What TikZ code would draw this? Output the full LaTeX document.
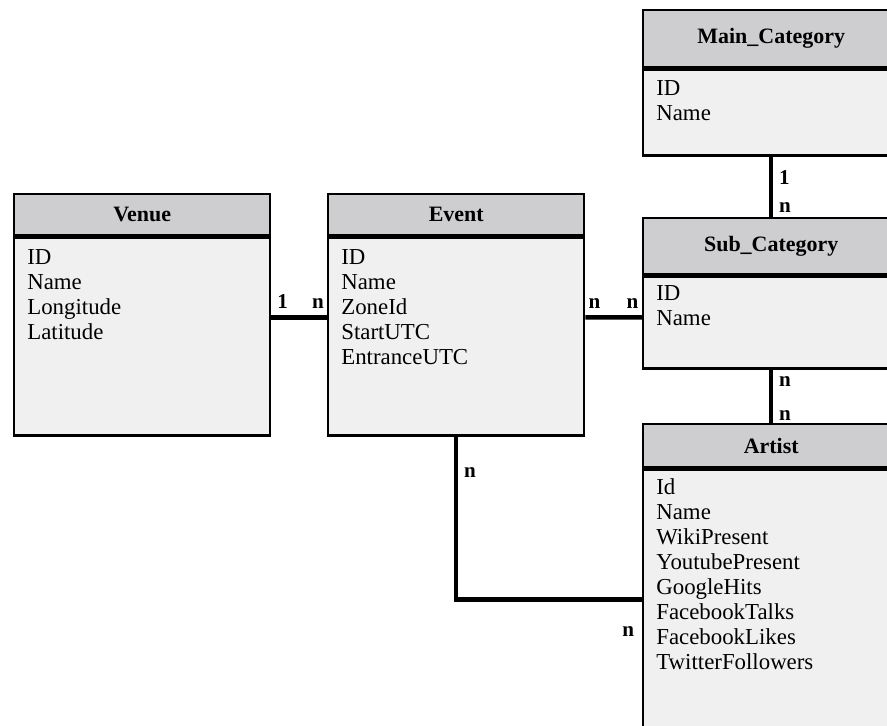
\documentclass[tikz,border=0pt]{standalone}
\usepackage{fontspec}
\setmainfont{Liberation Serif}
\usetikzlibrary{positioning}

\definecolor{headgray}{RGB}{206,205,207}
\definecolor{bodygray}{RGB}{240,240,240}

\tikzset{
  tablehead/.style={draw, line width=1.4pt, fill=headgray, anchor=north west,
    minimum width=5.12cm, inner sep=0pt, font=\fontsize{12.5}{14}\selectfont\bfseries},
  tablebody/.style={draw, line width=1.4pt, fill=bodygray,
    minimum width=5.12cm, inner sep=0pt},
  fieldlist/.style={anchor=north west, align=left, inner sep=0pt,
    font=\fontsize{13}{14.23}\selectfont},
  rel/.style={line width=2.6pt},
  card/.style={font=\fontsize{12}{13}\selectfont\bfseries, inner sep=1.5pt}
}

\begin{document}
\begin{tikzpicture}[x=0.02cm,y=-0.02cm]
  \useasboundingbox (0,0) rectangle (887,725);
  \clip (0,0) rectangle (887,725);
  % Tables
  \node[tablehead, minimum height=0.82cm] (venue) at (13,193) {Venue};
  \node[tablebody, minimum height=3.96cm, below=0pt of venue] (venueb) {};
  \node[fieldlist] (venuef) at ([shift={(0.28cm,-0.26cm)}]venueb.north west)
    {ID\\Name\\Longitude\\Latitude};

  \node[tablehead, minimum height=0.82cm] (event) at (327,193) {Event};
  \node[tablebody, minimum height=3.96cm, below=0pt of event] (eventb) {};
  \node[fieldlist] (eventf) at ([shift={(0.28cm,-0.26cm)}]eventb.north west)
    {ID\\Name\\ZoneId\\StartUTC\\EntranceUTC};

  \node[tablehead, minimum height=1.14cm] (maincat) at (642,9) {Main\_Category};
  \node[tablebody, minimum height=1.72cm, below=0pt of maincat] (maincatb) {};
  \node[fieldlist] (maincatf) at ([shift={(0.28cm,-0.24cm)}]maincatb.north west)
    {ID\\Name};

  \node[tablehead, minimum height=1.12cm] (subcat) at (642,217) {Sub\_Category};
  \node[tablebody, minimum height=1.84cm, below=0pt of subcat] (subcatb) {};
  \node[fieldlist] (subcatf) at ([shift={(0.28cm,-0.2cm)}]subcatb.north west)
    {ID\\Name};

  \node[tablehead, minimum height=0.86cm] (artist) at (642,423) {Artist};
  \node[tablebody, minimum height=6.4cm, below=0pt of artist] (artistb) {};
  \node[fieldlist] (artistf) at ([shift={(0.28cm,-0.2cm)}]artistb.north west)
    {Id\\Name\\WikiPresent\\YoutubePresent\\GoogleHits\\FacebookTalks\\FacebookLikes\\TwitterFollowers};

  % Relations
  \draw[rel] ([yshift=-1.62cm]venueb.north east) -- ([yshift=-1.62cm]eventb.north west)
    node[card, pos=0.2, above=0.08cm] {1} node[card, pos=0.84, above=0.08cm] {n};
  \draw[rel] ([yshift=-1.62cm]eventb.north east) -- ([yshift=-0.84cm]subcatb.north west)
    node[card, pos=0.16, above=0.08cm] {n} node[card, pos=0.83, above=0.08cm] {n};
  \draw[rel] (maincatb.south) -- (subcat.north)
    node[card, pos=0.34, right=0.06cm] {1} node[card, pos=0.85, right=0.06cm] {n};
  \draw[rel] (subcatb.south) -- (artist.north)
    node[card, pos=0.22, right=0.06cm] {n} node[card, pos=0.85, right=0.06cm] {n};
  \draw[rel] (eventb.south) |- ([yshift=-2.62cm]artistb.north west)
    node[card, pos=0.11, right=0.06cm] {n}
    node[card, at end, anchor=north east, xshift=-0.06cm, yshift=-0.44cm] {n};
\end{tikzpicture}
\end{document}
